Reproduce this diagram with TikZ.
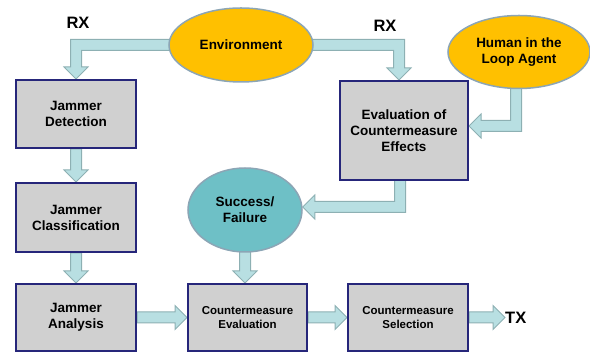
\documentclass[tikz,border=0pt]{standalone}
\usepackage{fontspec}
\setmainfont{Liberation Sans}
\usetikzlibrary{calc,shapes.geometric,backgrounds}
\definecolor{boxfill}{HTML}{D0D0D0}
\definecolor{boxline}{HTML}{26267A}
\definecolor{ellfill}{HTML}{FFC000}
\definecolor{ellline}{HTML}{8CA5B5}
\definecolor{sffill}{HTML}{6EC0C6}
\definecolor{arrfill}{HTML}{B8DFE2}
\definecolor{arrline}{HTML}{8DB0B3}
\def\aw{5.5pt}
\def\ah{12pt}
\def\al{12pt}
\newcommand\ArrDown[2]{\draw[barrow] let \p1=(#1), \p2=(#2) in
  (\x1-\aw,\y1) -- (\x1-\aw,\y2+\al) -- (\x1-\ah,\y2+\al) -- (\x1,\y2) --
  (\x1+\ah,\y2+\al) -- (\x1+\aw,\y2+\al) -- (\x1+\aw,\y1) -- cycle;}
\newcommand\ArrRight[2]{\draw[barrow] let \p1=(#1), \p2=(#2) in
  (\x1,\y1+\aw) -- (\x2-\al,\y1+\aw) -- (\x2-\al,\y1+\ah) -- (\x2,\y1) --
  (\x2-\al,\y1-\ah) -- (\x2-\al,\y1-\aw) -- (\x1,\y1-\aw) -- cycle;}
% horizontal then down; #3 = sign of horizontal direction
\newcommand\ArrHD[3]{\draw[barrow] let \p1=(#1), \p2=(#2) in
  (\x1,\y1+\aw) -- (\x2+#3*\aw,\y1+\aw) -- (\x2+#3*\aw,\y2+\al) -- (\x2+#3*\ah,\y2+\al) --
  (\x2,\y2) -- (\x2-#3*\ah,\y2+\al) -- (\x2-#3*\aw,\y2+\al) -- (\x2-#3*\aw,\y1-\aw) --
  (\x1,\y1-\aw) -- cycle;}
% down then horizontal; #3 = sign of horizontal direction
\newcommand\ArrVH[3]{\draw[barrow] let \p1=(#1), \p2=(#2) in
  (\x1+#3*\aw,\y1) -- (\x1+#3*\aw,\y2+\aw) -- (\x2-#3*\al,\y2+\aw) -- (\x2-#3*\al,\y2+\ah) --
  (\x2,\y2) -- (\x2-#3*\al,\y2-\ah) -- (\x2-#3*\al,\y2-\aw) -- (\x1-#3*\aw,\y2-\aw) --
  (\x1-#3*\aw,\y1) -- cycle;}
\tikzset{
  blk/.style={draw=boxline, line width=2pt, fill=boxfill, align=center,
    font=\fontsize{13.5}{16}\selectfont\bfseries, inner sep=0pt},
  blksmall/.style={blk, font=\fontsize{11.5}{14}\selectfont\bfseries},
  ell/.style={ellipse, draw=ellline, line width=1.5pt, fill=ellfill, align=center,
    font=\fontsize{13.5}{16}\selectfont\bfseries, inner sep=0pt},
  sfell/.style={ell, fill=sffill},
  lbl/.style={font=\fontsize{16.5}{18}\selectfont\bfseries, inner sep=0pt},
  barrow/.style={draw=arrline, line width=1pt, fill=arrfill, line join=miter}
}
\begin{document}
\begin{tikzpicture}[x=1pt,y=1pt]
\useasboundingbox (0,0) rectangle (590,352);
\node[blk, minimum width=120pt, minimum height=68pt] (det) at (76,238) {Jammer\\Detection};
\node[blk, minimum width=120pt, minimum height=69pt] (cls) at (76,134.5) {Jammer\\Classification};
\node[blk, minimum width=120pt, minimum height=67pt] (ana) at (76,34.5) {Jammer\\Analysis};
\node[blksmall, minimum width=119pt, minimum height=67pt] (ce) at (247.5,34.5) {Countermeasure\\Evaluation};
\node[blksmall, minimum width=120pt, minimum height=67pt] (cs) at (408,34.5) {Countermeasure\\Selection};
\node[blk, minimum width=128pt, minimum height=99pt] (eval) at (404,221.5) {Evaluation of\\Countermeasure\\Effects};
\node[ell, minimum width=144pt, minimum height=74pt] (env) at (241,307) {Environment};
\node[ell, minimum width=142pt, minimum height=73pt] (human) at (519,300) {Human in the\\Loop Agent};
\node[sfell, minimum width=114pt, minimum height=84pt] (sf) at (245,142) {Success/\\Failure};
\node[lbl] (rx1) at (78,329) {RX};
\node[lbl] (rx2) at (385,326) {RX};
\node[lbl, anchor=west] (tx) at (505,34) {TX};
\begin{scope}[on background layer]
\ArrHD{$(env.west)+(4,0)$}{det.north}{-1}
\ArrHD{$(env.east)+(-4,0)$}{$(eval.north)+(-5,0)$}{1}
\ArrVH{$(human.south)+(-3,4)$}{$(eval.east)+(0,4.5)$}{-1}
\ArrVH{$(eval.south)+(-4,2)$}{$(sf.east)+(0,3)$}{-1}
\ArrDown{det.south}{cls.north}
\ArrDown{cls.south}{ana.north}
\ArrDown{$(sf.south)+(0,4)$}{sf.south |- ce.north}
\ArrRight{ana.east}{ce.west}
\ArrRight{ce.east}{cs.west}
\ArrRight{cs.east}{tx.west}
\end{scope}
\end{tikzpicture}
\end{document}
